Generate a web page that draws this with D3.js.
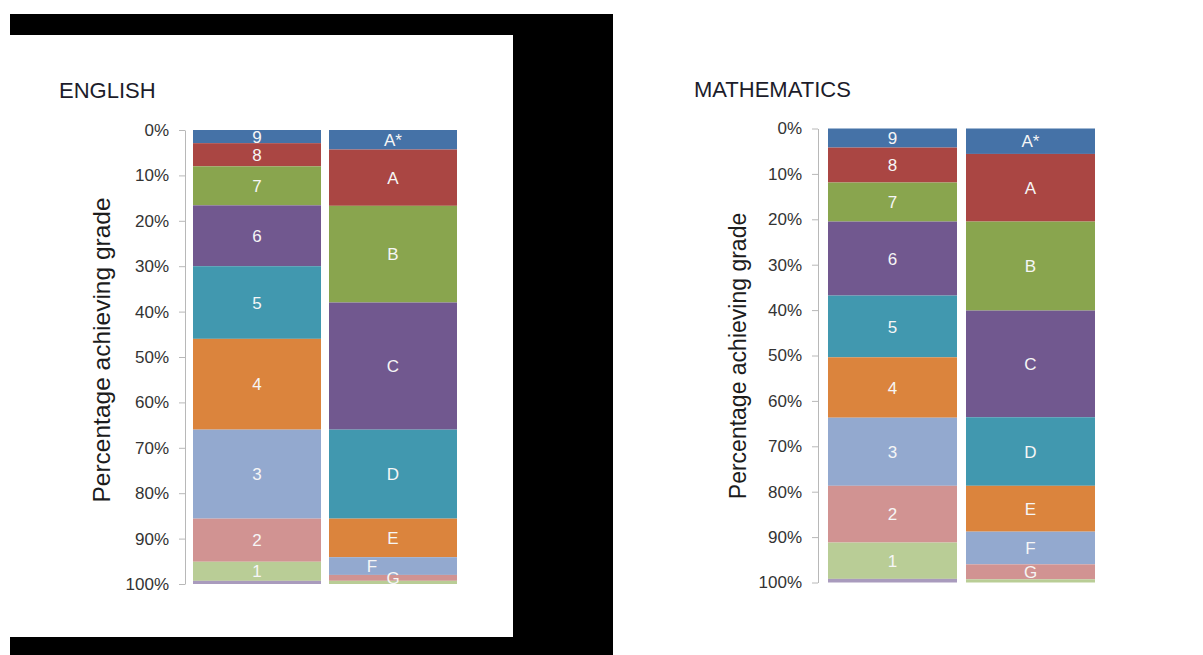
<!DOCTYPE html>
<html>
<head>
<meta charset="utf-8">
<script src="https://cdn.jsdelivr.net/npm/d3@7"></script>
<style>
  html, body { margin: 0; padding: 0; background: #ffffff; }
  svg { display: block; font-family: "Liberation Sans", Arial, sans-serif; }
</style>
</head>
<body>
<svg id="chart" width="1203" height="655"></svg>
<script>
// ---------------- data ----------------
const barCategories = ["New 9-1 grades", "Old A*-G grades"];
const tickValues = [0, 0.1, 0.2, 0.3, 0.4, 0.5, 0.6, 0.7, 0.8, 0.9, 1.0];
const tickLabels = ["0%", "10%", "20%", "30%", "40%", "50%", "60%", "70%", "80%", "90%", "100%"];
const axisTitle = "Percentage achieving grade";

const newGradeLabels = ["9", "8", "7", "6", "5", "4", "3", "2", "1", ""];
const oldGradeLabels = ["A*", "A", "B", "C", "D", "E", "F", "G", ""];

// percentages, from top of the bar down
const englishNew = [2.9, 5.1, 8.6, 13.4, 16.0, 20.0, 19.6, 9.5, 4.2, 0.7];
const englishOld = [4.3, 12.4, 21.3, 28.0, 19.6, 8.5, 3.9, 1.3, 0.7];
const mathsNew   = [4.2, 7.7, 8.6, 16.3, 13.6, 13.3, 15.0, 12.5, 8.0, 0.8];
const mathsOld   = [5.6, 14.9, 19.6, 23.5, 15.1, 10.1, 7.2, 3.3, 0.7];

const seriesColors = ["#4572A7", "#AA4643", "#89A54E", "#71588F", "#4198AF",
                      "#DB843D", "#93A9CF", "#D19392", "#B9CD96", "#A99BBD"];

// ---------------- drawing ----------------
const svg = d3.select("#chart");

// black frame from the screenshot
const frame = svg.append("g").attr("fill", "#000");
frame.append("rect").attr("x", 10).attr("y", 14).attr("width", 603).attr("height", 21);
frame.append("rect").attr("x", 513).attr("y", 14).attr("width", 100).attr("height", 641);
frame.append("rect").attr("x", 10).attr("y", 637).attr("width", 603).attr("height", 18);

const panels = [
  { title: "ENGLISH", values: [englishNew, englishOld], labels: [newGradeLabels, oldGradeLabels],
    titleX: 59, titleY: 98, x0: 189, step: 136, gap: 8, yTop: 130, yBottom: 584, axisX: 185,
    axisTitleX: 101, axisTitleY: 350, axisTitleSize: 24.5, nudge: { "F": -21 } },
  { title: "MATHEMATICS", values: [mathsNew, mathsOld], labels: [newGradeLabels, oldGradeLabels],
    titleX: 694, titleY: 97, x0: 823.5, step: 138, gap: 9, yTop: 128.5, yBottom: 582.5, axisX: 818,
    axisTitleX: 738, axisTitleY: 356, axisTitleSize: 23, nudge: {} }
];

panels.forEach(p => {
  const g = svg.append("g");
  const nSeries = seriesColors.length;
  const keys = d3.range(nSeries).map(i => "s" + i);
  const table = barCategories.map((c, ci) => {
    const row = { category: c };
    keys.forEach((k, i) => { row[k] = (p.values[ci][i] || 0) / 100; });
    return row;
  });
  const stacked = d3.stack().keys(keys).order(d3.stackOrderNone)(table);

  const inner = p.gap / p.step;
  const x = d3.scaleBand().domain(barCategories)
    .range([p.x0, p.x0 + 2 * p.step]).paddingInner(inner).paddingOuter(inner / 2);
  const y = d3.scaleLinear().domain([0, 1]).range([p.yTop, p.yBottom]);

  // title
  g.append("text").attr("x", p.titleX).attr("y", p.titleY)
    .attr("font-size", 22).attr("fill", "#1c1c2a").text(p.title);

  // bars
  stacked.forEach((layer, si) => {
    g.append("g").attr("fill", seriesColors[si])
      .selectAll("rect").data(layer.filter(d => d[1] - d[0] > 0)).join("rect")
      .attr("x", d => x(d.data.category))
      .attr("width", x.bandwidth())
      .attr("y", d => y(d[0]))
      .attr("height", d => y(d[1]) - y(d[0]));
  });

  // segment labels
  stacked.forEach((layer, si) => {
    layer.forEach((d, ci) => {
      const lab = p.labels[ci][si];
      if (!lab || d[1] - d[0] <= 0) return;
      const dx = p.nudge[lab] || 0;
      g.append("text")
        .attr("x", x(d.data.category) + x.bandwidth() / 2 + dx)
        .attr("y", y((d[0] + d[1]) / 2))
        .attr("dy", "0.36em")
        .attr("text-anchor", "middle")
        .attr("font-size", 17)
        .attr("fill", "#f6f6f6")
        .text(lab);
    });
  });

  // y axis
  const axis = d3.axisLeft(y).tickValues(tickValues)
    .tickFormat((d, i) => tickLabels[i]).tickSize(6).tickSizeOuter(0).tickPadding(10);
  const ag = g.append("g").attr("transform", `translate(${p.axisX},0)`).call(axis);
  ag.select(".domain").attr("stroke", "#b8b8b8");
  ag.selectAll(".tick line").attr("stroke", "#b8b8b8");
  ag.selectAll(".tick text").attr("font-size", 17).attr("fill", "#333333")
    .attr("font-family", "'Liberation Sans', Arial, sans-serif");

  // axis title
  g.append("text")
    .attr("transform", `translate(${p.axisTitleX},${p.axisTitleY}) rotate(-90)`)
    .attr("text-anchor", "middle").attr("dy", "0.35em")
    .attr("font-size", p.axisTitleSize).attr("fill", "#1c1c1c").text(axisTitle);
});
</script>
</body>
</html>
